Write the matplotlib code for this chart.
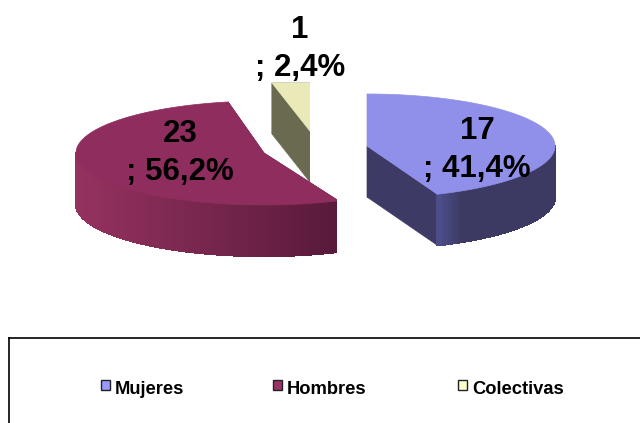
import numpy as np
import matplotlib
matplotlib.use("Agg")
import matplotlib.pyplot as plt
from matplotlib.patches import Polygon, Rectangle

categories = ["Mujeres", "Hombres", "Colectivas"]
counts = [17, 23, 1]
percents = [41.4, 56.2, 2.4]

# drawing order around the pie (clockwise from 12 o'clock)
pie_order = [0, 2, 1]

# styles
top_colors = ["#9090EA", "#8F2E5E", "#EAEAB8"]
cut_colors = ["#3D3A66", "#5A1A3C", "#6A6A50"]
side_left = ["#4E4E8C", "#95325F", "#6A6A50"]
side_right = ["#3C3A62", "#581A3A", "#6A6A50"]
swatch_colors = ["#9999FF", "#993366", "#FFFFCC"]
centers = {0: (367, 146), 1: (264, 153), 2: (272, 83)}
clips = {0: (366, 640), 1: (0, 337), 2: (271, 310)}
# apparent-angle corrections for the reference's 3D perspective
adjust = {0: (0, 9), 1: (-1, -11), 2: (-59, 10)}
RX, RY, DEPTH = 188, 52, 51

plt.rcParams["font.family"] = ["Liberation Sans", "DejaVu Sans"]
fig = plt.figure(figsize=(6.4, 4.23), dpi=100)
ax = fig.add_axes([0, 0, 1, 1])
ax.set_xlim(0, 640)
ax.set_ylim(423, 0)
ax.axis("off")


def point(c, deg):
    t = np.deg2rad(deg)
    return c[0] + RX * np.sin(t), c[1] - RY * np.cos(t)


def hex2rgb(h):
    return np.array(matplotlib.colors.to_rgb(h))


def add(poly, color, idx, z, smooth=True):
    p = Polygon(poly, closed=True, facecolor=color, edgecolor=color,
                linewidth=0.5 if smooth else 1.0, zorder=z, antialiased=smooth)
    ax.add_patch(p)
    x0, x1 = clips[idx]
    p.set_clip_path(Rectangle((x0, 0), x1 - x0, 423, transform=ax.transData))


start = 0.0
for i in pie_order:
    span = percents[i] / 100 * 360
    a0, a1 = start + adjust[i][0], start + span + adjust[i][1]
    start += span
    c = centers[i]
    p0, p1 = point(c, a0), point(c, a1)
    for p in (p0, p1):
        add([c, p, (p[0], p[1] + DEPTH), (c[0], c[1] + DEPTH)], cut_colors[i], i, 2)
    # outer rim, visible on the front half only
    lo, hi = max(a0, 90), min(a1, 270)
    if hi > lo:
        angs = np.linspace(lo, hi, 90)
        xs = [point(c, a)[0] for a in angs]
        x0, x1 = clips[i]
        xa, xb = max(min(xs), x0), min(max(xs), x1)
        for a, b in zip(angs[:-1], angs[1:]):
            pa, pb = point(c, a), point(c, b)
            f = np.clip((0.5 * (pa[0] + pb[0]) - xa) / (xb - xa), 0, 1)
            if i == 0:
                f = min(1, f * 5)
            col = (1 - f) * hex2rgb(side_left[i]) + f * hex2rgb(side_right[i])
            add([pa, pb, (pb[0], pb[1] + DEPTH), (pa[0], pa[1] + DEPTH)], col, i, 3,
                smooth=False)
    # top face
    arc = [point(c, a) for a in np.linspace(a0, a1, 120)]
    add([c] + arc, top_colors[i], i, 4)

# value labels
label_pos = {0: (477, 150), 1: (180, 153), 2: (300, 49)}
for i, cat in enumerate(categories):
    pct = f"{percents[i]:.1f}".replace(".", ",")
    ax.text(label_pos[i][0], label_pos[i][1], f"{counts[i]}\n; {pct}%",
            ha="center", va="center", fontsize=22.5, fontweight="bold",
            color="black", linespacing=1.38, zorder=6)

# legend frame: runs off the right and bottom of the picture
ax.plot([9, 9], [423, 338], color="black", lw=1.2, zorder=5, clip_on=False)
ax.plot([9, 640], [338, 338], color="black", lw=1.2, zorder=5, clip_on=False)
swatch_x = [101, 273, 458]
for i, cat in enumerate(categories):
    ax.add_patch(Rectangle((swatch_x[i], 380), 9, 10, facecolor=swatch_colors[i],
                           edgecolor="#222222", linewidth=1.0, zorder=6))
    ax.text(swatch_x[i] + 14, 389, cat, ha="left", va="center", fontsize=13.2,
            fontweight="bold", color="black", zorder=6)

fig.savefig("out.png", dpi=100, facecolor="white")
